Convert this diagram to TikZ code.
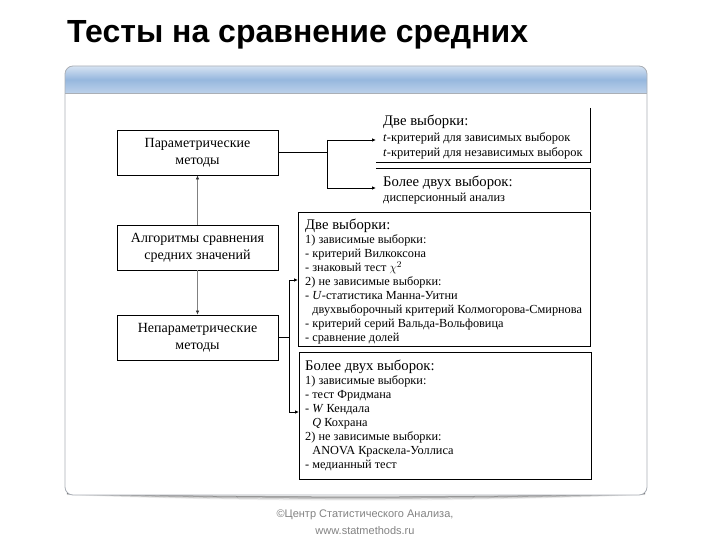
\documentclass[tikz,border=0pt]{standalone}
\usepackage{fontspec}
\setmainfont{Liberation Serif}
\newfontfamily\arialf{Liberation Sans}
\usetikzlibrary{arrows.meta}
\definecolor{hdrtop}{RGB}{214,227,242}
\definecolor{hdrmid}{RGB}{150,183,222}
\definecolor{hdrbot}{RGB}{188,209,234}
\definecolor{panelline}{RGB}{170,175,182}
\definecolor{footgray}{RGB}{130,130,130}
\tikzset{
  leftbox/.style={draw=black, line width=0.8pt, minimum width=161pt, minimum height=45pt, inner sep=0pt, align=center, font=\fontsize{14}{17}\selectfont},
  rbox/.style={minimum width=214pt, inner sep=0pt, anchor=north west},
  bigbox/.style={draw=black, line width=0.8pt, minimum width=292pt, inner sep=0pt, anchor=north west},
  boxtext/.style={anchor=north west, align=left, inner sep=0pt},
  conn/.style={line width=0.8pt, black},
  connarr/.style={line width=0.8pt, black, -{Latex[length=4pt,width=3.5pt]}},
  grayarr/.style={line width=0.6pt, gray, -{Latex[length=4pt,width=3.5pt,color=black!80]}},
  bord/.style={line width=0.8pt, black},
  foottext/.style={anchor=base, inner sep=0pt, text=footgray, font=\arialf\fontsize{11}{13}\selectfont}
}
\begin{document}
\begin{tikzpicture}[x=1pt,y=-1pt]
\useasboundingbox (0,0) rectangle (720,540);
% title
\node[anchor=base west, inner sep=0pt, font=\arialf\bfseries\fontsize{32}{34}\selectfont] (title) at (67,43) {Тесты на сравнение средних};
% panel shadow
\foreach \o/\op in {1/0.35,2/0.25,3/0.17,4/0.1,5/0.05}{
  \draw[black, opacity=\op, line width=1pt] (67,{493+\o*0.3}) .. controls (250,{497+\o}) and (460,{497+\o}) .. (645,{493+\o*0.3});
}
% panel
\fill[white] [rounded corners=8pt] (65,66) rectangle (647,495);
\begin{scope}
  \clip[rounded corners=8pt] (65,66) rectangle (647,495);
  \shade[top color=hdrtop, bottom color=hdrbot, middle color=hdrmid] (65,66) rectangle (647,93);
  \draw[panelline, line width=0.8pt] (65,93) -- (647,93);
\end{scope}
\draw[panelline, line width=0.8pt, rounded corners=8pt] (65,66) rectangle (647,495);
% left boxes
\node[leftbox] (p) at (197.5,152.5) {Параметрические\\методы};
\node[leftbox] (alg) at (197.5,247.5) {Алгоритмы сравнения\\средних значений};
\node[leftbox] (n) at (197.5,337.5) {Непараметрические\\методы};
\draw[grayarr] (alg.north) -- (p.south);
\draw[grayarr] (alg.south) -- (n.north);
% right upper boxes
\node[rbox, minimum height=54pt] (a) at (376,108) {};
\node[rbox, minimum height=42pt] (b) at (376,168) {};
\draw[bord] (a.north east) -- (a.south east) -- (a.south west);
\draw[bord] (b.north west) -- (b.north east) -- (b.south east);
\node[boxtext, font=\fontsize{12.4}{15.5}\selectfont] (at) at (383,115) {{\fontsize{14.7}{15.5}\selectfont Две выборки:}\\\textit{t}-критерий для зависимых выборок\\\textit{t}-критерий для независимых выборок};
\node[boxtext, font=\fontsize{12.4}{15}\selectfont] (bt) at (383,176) {{\fontsize{14.7}{15}\selectfont Более двух выборок:}\\дисперсионный анализ};
% right lower boxes
\node[bigbox, minimum height=134pt] (c) at (298,212) {};
\node[bigbox, minimum height=127pt] (d) at (299,352) {};
\node[boxtext, font=\fontsize{12.3}{14}\selectfont] (ct) at (305,219) {{\fontsize{14.7}{15}\selectfont Две выборки:}\\1) зависимые выборки:\\- критерий Вилкоксона\\- знаковый тест $\chi^2$\\2) не зависимые выборки:\\- \textit{U}-статистика Манна-Уитни\\\hphantom{- }двухвыборочный критерий Колмогорова-Смирнова\\- критерий серий Вальда-Вольфовица\\- сравнение долей};
\node[boxtext, font=\fontsize{12.3}{14}\selectfont] (dt) at (305,360) {{\fontsize{14.7}{15}\selectfont Более двух выборок:}\\1) зависимые выборки:\\- тест Фридмана\\- \textit{W} Кендала\\\hphantom{- }\textit{Q} Кохрана\\2) не зависимые выборки:\\\hphantom{- }ANOVA Краскела-Уоллиса\\- медианный тест};
% connectors
\coordinate (j1t) at (327,140);
\coordinate (j1b) at (327,188);
\draw[conn] (p.east) -- (p.east -| j1t);
\draw[connarr] (j1t) -- (j1t -| a.west);
\draw[connarr] (j1t) -- (j1b) -- (j1b -| b.west);
\coordinate (j2t) at (289,280);
\coordinate (j2b) at (289,412);
\draw[conn] (n.east) -- (n.east -| j2t);
\draw[connarr] (j2b) -- (j2t) -- (j2t -| c.west);
\draw[connarr] (j2t) -- (j2b) -- (j2b -| d.west);
% footer
\node[foottext] (foot1) at (365,517) {©Центр Статистического Анализа,};
\node[foottext] (foot2) at (365,534) {www.statmethods.ru};
\end{tikzpicture}
\end{document}
